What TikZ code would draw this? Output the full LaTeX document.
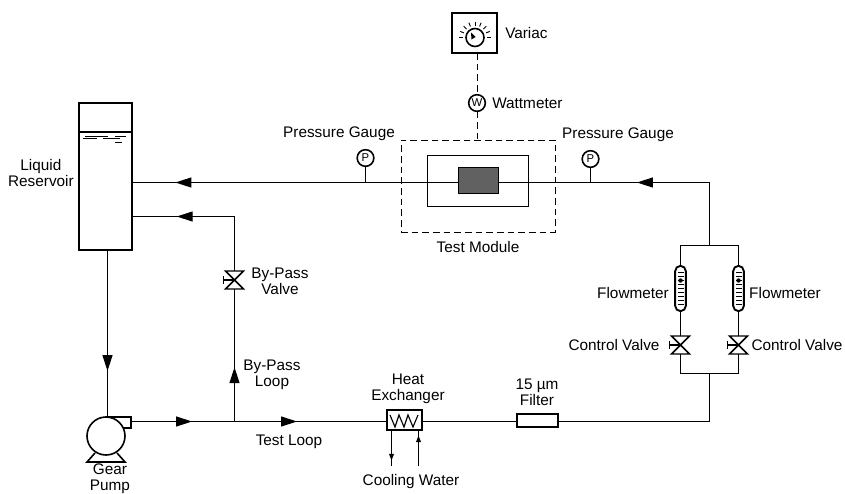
\documentclass[tikz,border=0pt]{standalone}
\usepackage{fontspec}
\setmainfont{Liberation Sans}
\usetikzlibrary{calc, arrows.meta, decorations.markings}

\begin{document}
\begin{tikzpicture}[x=0.75pt, y=-0.75pt, font=\fontsize{11.5}{11.8}\selectfont]
    % Styles
    \tikzstyle{pipe} = [line width=0.85pt]
    \tikzstyle{box} = [rectangle, draw, line width=0.75pt, inner sep=0pt, outer sep=0pt]
    \tikzstyle{heavybox} = [box, line width=1.4pt]
    \tikzstyle{gauge} = [circle, draw, fill=white, line width=1.2pt, minimum size=12.5pt, inner sep=0pt, outer sep=0pt, font=\fontsize{8.5}{9}\selectfont]
    \tikzstyle{meter} = [heavybox, rounded corners=4pt, minimum width=8pt, minimum height=34pt]
    \tikzstyle{valve} = [inner sep=0pt, outer sep=0pt, minimum width=13.5pt, minimum height=13.5pt]
    \tikzstyle{txt} = [align=center, inner sep=0pt]
    \tikzstyle{wire} = [line width=0.7pt, dash pattern=on 5pt off 3pt]
    \tikzstyle{flow} = [pipe, postaction={decorate}, decoration={markings, mark=at position #1 with {\arrow{Triangle[length=12pt, width=7.5pt]}}}]
    \tikzstyle{coolflow} = [pipe, postaction={decorate}, decoration={markings, mark=at position #1 with {\arrow{Triangle[length=5pt, width=3.5pt]}}}]

    \useasboundingbox (0,0) rectangle (845,493);

    % Variac and wattmeter
    \node[heavybox, minimum width=33.75pt, minimum height=30pt] (variac) at (474.5,33) {};
    \node[circle, draw, line width=1.2pt, minimum size=13.5pt, inner sep=0pt, outer sep=0pt] (dial) at (475,37.5) {};
    \foreach \a in {0,22.5,...,180}
        \draw[line width=0.7pt] ($(dial.center)+(-\a:12)$) -- ($(dial.center)+(-\a:16)$);
    \fill ($(dial.center)+(-4,-5)$) -- ($(dial.center)+(-3.5,2)$) -- ($(dial.center)+(0.5,-0.5)$) -- cycle;
    \node[gauge] (wattmeter) at (477,103) {W};

    % Test module
    \node[box, line width=0.7pt, dash pattern=on 5pt off 3pt, minimum width=115.5pt, minimum height=69pt] (test_module) at (478,186) {};
    \node[box, minimum width=75.75pt, minimum height=38.25pt] (module) at (477.5,180.5) {};
    \node[box, fill=black!62, minimum width=30pt, minimum height=20pt] (heater) at (478,180.5) {};

    % Reservoir
    \node[heavybox, minimum width=39.75pt, minimum height=110.25pt] (reservoir) at (105.5,176.5) {};
    \draw[pipe] (reservoir.west |- 0,132) -- (reservoir.east |- 0,132);
    \draw[line width=0.6pt] (85,136) -- (108,136) (115,136) -- (126,136);
    \draw[line width=0.6pt] (83,138.5) -- (97,138.5) (103,138.5) -- (120,138.5);
    \draw[line width=0.6pt] (115,142) -- (122,142);

    % Pump
    \node[box, line width=1.2pt, minimum width=18.75pt, minimum height=8.25pt] (pump_outlet) at (118.5,422.5) {};
    \draw[line width=1.2pt] (95,453) -- (87,462) -- (125,462) -- (117,453);
    \node[circle, draw, fill=white, line width=1.2pt, minimum size=28.5pt, inner sep=0pt, outer sep=0pt] (pump) at (106,436) {};

    % Heat exchanger and filter
    \node[heavybox, minimum width=26.25pt, minimum height=15pt] (exchanger) at (404.5,420) {};
    \draw[pipe] (390,415) -- (395,427) -- (399,415) -- (404,427) -- (408,415) -- (413,427) -- (418,415);
    \node[heavybox, minimum width=30.75pt, minimum height=9.75pt] (filter) at (537.5,420.5) {};

    % Flowmeters and valves
    \node[meter] (meter_left) at (680.5,288.5) {};
    \node[meter] (meter_right) at (738.5,288.5) {};
    \node[valve] (valve_left) at (680.5,345) {};
    \node[valve] (valve_right) at (738.5,345) {};
    \node[valve] (bypass_valve) at (234.5,280) {};
    \foreach \v in {valve_left, valve_right, bypass_valve} {
        \draw[line width=1.1pt] (\v.north west) -- (\v.north east) -- (\v.south west) -- (\v.south east) -- cycle;
        \draw[pipe] (\v.center) -- ($(\v.center)+(-11,0)$);
        \draw[pipe] ($(\v.center)+(-11,-4)$) -- ($(\v.center)+(-11,4)$);
    }
    \foreach \m in {meter_left, meter_right} {
        \foreach \y in {-16,-12,...,16}
            \draw[line width=0.5pt] ($(\m.center)+(-3,\y)$) -- ($(\m.center)+(3,\y)$);
        \fill ($(\m.center)+(0,-8)$) circle (2.2);
    }

    % Pressure gauges
    \node[gauge] (gauge_left) at (365.5,158) {P};
    \node[gauge] (gauge_right) at (590.5,159) {P};

    % Junctions
    \coordinate (top_corner) at (709.5,182.5);
    \coordinate (branch_top) at (709.5,245.5);
    \coordinate (branch_bottom) at (709.5,373.5);
    \coordinate (low_corner) at (709.5,421.5);
    \coordinate (bypass_tee) at (234.5,421.5);
    \coordinate (bypass_corner) at (234.5,216.5);
    \coordinate (cool_out) at (391.5,466);
    \coordinate (cool_in) at (418.5,466);

    % Connections
    \draw[flow=0.40] (top_corner) -- (module.east |- top_corner);
    \draw[pipe] (module.east |- top_corner) -- (heater.east |- top_corner);
    \draw[pipe] (heater.west |- top_corner) -- (module.west |- top_corner);
    \draw[flow=0.853] (module.west |- top_corner) -- (reservoir.east |- top_corner);
    \draw[pipe] (branch_top) -- (top_corner);
    \draw[pipe] (meter_left.north) |- (branch_top) -| (meter_right.north);
    \draw[pipe] (meter_left.south) -- (valve_left.north);
    \draw[pipe] (meter_right.south) -- (valve_right.north);
    \draw[pipe] (valve_left.south) |- (branch_bottom) -| (valve_right.south);
    \draw[pipe] (branch_bottom) -- (low_corner) -- (filter.east |- low_corner);
    \draw[pipe] (filter.west |- low_corner) -- (exchanger.east |- low_corner);
    \draw[flow=0.41] (bypass_tee) -- (exchanger.west |- bypass_tee);
    \draw[flow=0.59] (pump_outlet.east |- bypass_tee) -- (bypass_tee);
    \draw[flow=0.41] (bypass_tee) -- (bypass_valve.south);
    \draw[flow=0.715] (bypass_valve.north) -- (bypass_corner) -- (reservoir.east |- bypass_corner);
    \draw[flow=0.725] (reservoir.south) ++(2,0) coordinate (res_out) -- (res_out |- pump.north);
    \draw[pipe] (gauge_left.south) -- (gauge_left.south |- top_corner);
    \draw[pipe] (gauge_right.south) -- (gauge_right.south |- top_corner);
    \draw[wire] (dial.south |- variac.south) ++(2,0) -- (wattmeter.north);
    \draw[wire] (wattmeter.south) -- (wattmeter.south |- test_module.north);
    \draw[coolflow=0.85] (cool_out |- exchanger.south) -- (cool_out);
    \draw[coolflow=0.85] (cool_in) -- (cool_in |- exchanger.south);

    % Labels
    \node[txt, anchor=west] (variac_text) at (505,33) {Variac};
    \node[txt, anchor=west] (wattmeter_text) at (492,103) {Wattmeter};
    \node[txt] (gauge_left_text) at (339,134) {Pressure Gauge};
    \node[txt] (gauge_right_text) at (618,135) {Pressure Gauge};
    \node[txt] (module_text) at (478,247) {Test Module};
    \node[txt, anchor=east] (reservoir_text) at (74,173) {Liquid\\Reservoir};
    \node[txt] (bypass_valve_text) at (280,281) {By-Pass\\Valve};
    \node[txt] (bypass_loop_text) at (272,375) {By-Pass\\Loop};
    \node[txt] (test_loop_text) at (289,442) {Test Loop};
    \node[txt] (pump_text) at (110,479) {Gear\\Pump};
    \node[txt] (exchanger_text) at (408,389) {Heat\\Exchanger};
    \node[txt] (filter_text) at (537,392) {15 µm\\Filter};
    \node[txt] (cooling_text) at (411,482) {Cooling Water};
    \node[txt] (meter_left_text) at (633,293) {Flowmeter};
    \node[txt] (meter_right_text) at (785,293) {Flowmeter};
    \node[txt] (valve_left_text) at (614,345) {Control Valve};
    \node[txt] (valve_right_text) at (797,345) {Control Valve};
\end{tikzpicture}
\end{document}
